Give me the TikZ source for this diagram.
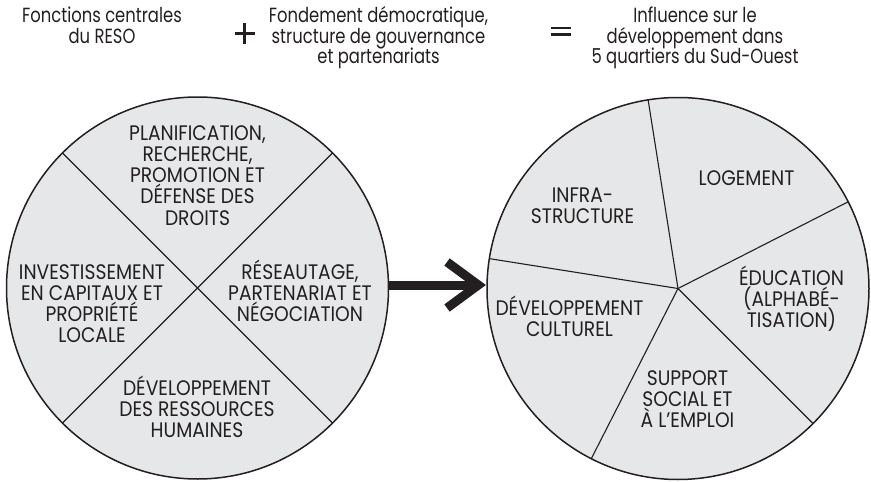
\documentclass[tikz,border=0pt]{standalone}
\usepackage{fontspec}
\setmainfont{Poppins}
\newfontfamily\bodyfont[FakeStretch=0.89]{Poppins}
\newfontfamily\headfont[FakeStretch=0.8]{Poppins}
\usetikzlibrary{calc}
\definecolor{ink}{HTML}{231F20}
\definecolor{piefill}{HTML}{E6E7E8}
\newcommand\bstrut{\rule{0pt}{22pt}}
\newcommand\hstrut{\rule{0pt}{20pt}}
\tikzset{
  pie/.style={circle, draw=ink, line width=1.5pt, fill=piefill, minimum size=382pt, inner sep=0pt, outer sep=0pt},
  divider/.style={draw=ink, line width=1.1pt},
  lbl/.style={align=center, text=ink, inner sep=0pt, anchor=north,
    font=\bodyfont\fontsize{21}{21.2}\selectfont},
  hdr/.style={align=center, text=ink, inner sep=0pt, anchor=north,
    font=\headfont\fontsize{20.5}{20.3}\selectfont},
  arrowline/.style={draw=ink, line width=9pt},
  symb/.style={draw=ink, line width=2.8pt}
}
\begin{document}
\lineskiplimit=-50pt
\begin{tikzpicture}[x=1pt,y=1pt]
\useasboundingbox (0,0) rectangle (871,-482);
% header
\node[hdr] (h1) at (102,-2.7) {\hstrut Fonctions centrales\\du RESO};
\node[hdr] (h2) at (378.5,-2.7) {\hstrut Fondement démocratique,\\structure de gouvernance\\et partenariats};
\node[hdr] (h3) at (695,-2.7) {\hstrut Influence sur le\\développement dans\\5 quartiers du Sud-Ouest};
\draw[symb] (234.5,-33.5) -- (255,-33.5) (244.7,-23.3) -- (244.7,-43.5);
\draw[symb] (550.5,-28) -- (570.7,-28) (550.5,-34.7) -- (570.7,-34.7);
% circles
\node[pie] (L) at (197.5,-288) {};
\node[pie] (R) at (678,-288.5) {};
\draw[divider] (L.45) -- (L.-135);
\draw[divider] (L.135) -- (L.-45);
\foreach \a in {99,27,-45,-117,171} {\draw[divider] (R.center) -- (R.\a);}
% arrow
\coordinate (tipv) at (478.3,-285);
\draw[arrowline] (L.east |- tipv) -- (tipv);
\draw[arrowline, line join=miter] ($(tipv)+(-31.3,23)$) -- (tipv) -- ($(tipv)+(-31.3,-23)$);
% left labels
\node[lbl] (t1) at (197.5,-118) {\bstrut PLANIFICATION,\\RECHERCHE,\\PROMOTION ET\\DÉFENSE DES\\DROITS};
\node[lbl] (t2) at (300,-257) {\bstrut RÉSEAUTAGE,\\PARTENARIAT ET\\NÉGOCIATION};
\node[lbl] (t3) at (92,-257) {\bstrut INVESTISSEMENT\\EN CAPITAUX ET\\PROPRIÉTÉ\\LOCALE};
\node[lbl] (t4) at (197,-373) {\bstrut DÉVELOPPEMENT\\DES RESSOURCES\\HUMAINES};
% right labels
\node[lbl] (u1) at (582.5,-180) {\bstrut INFRA-\\STRUCTURE};
\node[lbl] (u2) at (746.5,-163) {\bstrut LOGEMENT};
\node[lbl] (u3) at (791.5,-263) {\bstrut ÉDUCATION\\(ALPHABÉ-\\TISATION)};
\node[lbl] (u4) at (569.5,-293) {\bstrut DÉVELOPPEMENT\\CULTUREL};
\node[lbl] (u5) at (687.5,-363) {\bstrut SUPPORT\\SOCIAL ET\\À L’EMPLOI};
\end{tikzpicture}
\end{document}
